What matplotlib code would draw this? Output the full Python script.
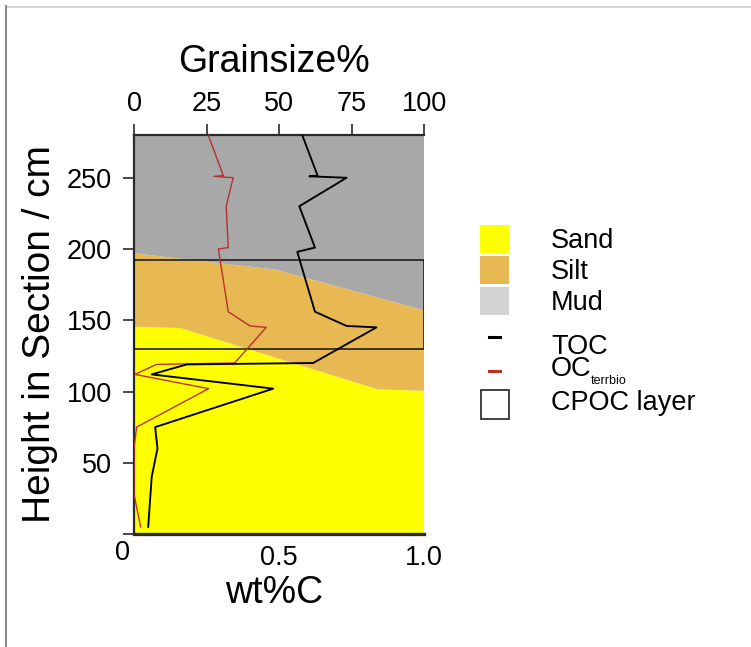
import matplotlib
matplotlib.use("Agg")
import matplotlib.pyplot as plt
from matplotlib.patches import Rectangle
from matplotlib.lines import Line2D

plt.rcParams['font.family'] = ['Liberation Sans', 'DejaVu Sans']

# Grain-size boundaries: cumulative percent vs. height in section (cm)
sand_top_pct = [0, 16, 84, 100]
sand_top_h = [145.5, 144.5, 101.5, 100.5]
silt_top_pct = [0, 49, 100]
silt_top_h = [197, 185.5, 157]

# Total organic carbon (wt% C) by height
toc_h = [280, 251.5, 251, 250, 230, 201, 198, 156, 146, 145, 120, 119, 112, 102, 75, 60, 40, 5]
toc_wt = [0.58, 0.633, 0.605, 0.733, 0.570, 0.624, 0.563, 0.624, 0.733, 0.836,
          0.618, 0.182, 0.061, 0.480, 0.073, 0.081, 0.061, 0.049]

# Terrestrial/biospheric organic carbon (wt% C) by height
oc_h = [280, 251.5, 251, 250, 230, 201, 200, 156, 146, 145, 120, 119, 112, 102, 75, 60, 40, 28, 5]
oc_wt = [0.256, 0.308, 0.276, 0.342, 0.318, 0.325, 0.291, 0.325, 0.400, 0.456,
         0.347, 0.078, 0.003, 0.257, 0.009, 0.0, 0.0, 0.0, 0.023]

# CPOC layer extent (cm)
cpoc_bottom, cpoc_top = 130, 192

pct_ticks = [0, 25, 50, 75, 100]
height_ticks = [0, 50, 100, 150, 200, 250]
height_labels = ['', '50', '100', '150', '200', '250']
h_max = 280

SAND = '#FFFF00'
SILT = '#E8B952'
MUD = '#A8A8A8'
MUD_KEY = '#D3D3D3'
RED = '#B8302A'
AX_COL = '#2a2a2a'
TICK_FS = 19.5

W, H = 751, 647
fig = plt.figure(figsize=(W / 100, H / 100), dpi=100)

ax = fig.add_axes([134 / W, 113 / H, 290 / W, 399 / H])
ax2 = ax.twiny()

ax.set_xlim(0, 100)
ax.set_ylim(0, h_max)

# stacked grain-size areas
sand_poly_x = [0, 100] + sand_top_pct[::-1]
sand_poly_y = [0, 0] + sand_top_h[::-1]
ax.fill(sand_poly_x, sand_poly_y, color=SAND, lw=0, zorder=1)

silt_poly_x = sand_top_pct + silt_top_pct[::-1]
silt_poly_y = sand_top_h + silt_top_h[::-1]
ax.fill(silt_poly_x, silt_poly_y, color=SILT, lw=0, zorder=1)

mud_poly_x = silt_top_pct + [100, 0]
mud_poly_y = silt_top_h + [h_max, h_max]
ax.fill(mud_poly_x, mud_poly_y, color=MUD, lw=0, zorder=1)

ax.add_patch(Rectangle((0, cpoc_bottom), 100, cpoc_top - cpoc_bottom,
                       fill=False, ec='#111111', lw=1.1, zorder=3))

# grain-size scale along the top
ax.xaxis.set_ticks_position('top')
ax.xaxis.set_label_position('top')
ax.set_xticks(pct_ticks)
ax.set_xticklabels([str(t) for t in pct_ticks])
ax.tick_params(axis='x', direction='out', length=8, width=1.2, color=AX_COL,
               labelsize=TICK_FS, pad=5)
ax.set_yticks(height_ticks)
ax.set_yticklabels(height_labels)
ax.tick_params(axis='y', direction='out', length=8, width=1.2, color=AX_COL,
               labelsize=TICK_FS, pad=8)
for s in ('right', 'bottom'):
    ax.spines[s].set_visible(False)
for s in ('left', 'top'):
    ax.spines[s].set_linewidth(1.6)
    ax.spines[s].set_color(AX_COL)

# carbon profiles on the wt%C scale along the bottom
ax2.set_xlim(0, 1)
ax2.set_ylim(0, h_max)
ax2.plot(oc_wt, oc_h, color=RED, lw=1.0, zorder=4)
ax2.plot(toc_wt, toc_h, color='black', lw=1.35, zorder=5)
ax2.xaxis.set_ticks_position('bottom')
ax2.xaxis.set_label_position('bottom')
ax2.set_xticks([0, 0.5, 1.0])
ax2.set_xticklabels(['', '0.5', '1.0'])
ax2.set_xticks([0], minor=True)
ax2.tick_params(axis='x', which='major', length=0, labelsize=TICK_FS, pad=8)
ax2.tick_params(axis='x', which='minor', direction='out', length=8, width=1.2,
                color=AX_COL)
for s in ('left', 'right', 'top'):
    ax2.spines[s].set_visible(False)
ax2.spines['bottom'].set_linewidth(2.4)
ax2.spines['bottom'].set_color(AX_COL)
ax2.annotate('0', xy=(0, 0), xycoords='data', xytext=(-12, -19),
             textcoords='offset pixels', ha='center', va='center', fontsize=TICK_FS)

# titles
fig.text(274 / W, 1 - 71.5 / H, 'Grainsize%', fontsize=27, ha='center', va='baseline')
fig.text(274 / W, 1 - 603 / H, 'wt%C', fontsize=27, ha='center', va='baseline')
fig.text(40 / W, 1 - 334 / H, 'Height in Section / cm', fontsize=28,
         rotation=90, ha='center', va='center')

# key, laid out in pixel space
lg = fig.add_axes([0, 0, 1, 1])
lg.set_xlim(0, W)
lg.set_ylim(H, 0)
lg.axis('off')
lg.add_patch(Rectangle((480, 225), 28.5, 28, color=SAND, lw=0))
lg.add_patch(Rectangle((480, 256), 28.5, 28, color=SILT, lw=0))
lg.add_patch(Rectangle((480, 287), 28.5, 28, color=MUD_KEY, lw=0))
lg.add_line(Line2D([488.5, 500], [337, 337], color='black', lw=2.2))
lg.add_line(Line2D([488.5, 500], [371, 371], color=RED, lw=2.2))
lg.add_patch(Rectangle((481, 390), 28, 28.5, fill=False, ec='#333333', lw=1.3))
key_fs = 19.5
lg.text(551, 248, 'Sand', fontsize=key_fs, va='baseline')
lg.text(551, 279, 'Silt', fontsize=key_fs, va='baseline')
lg.text(551, 310, 'Mud', fontsize=key_fs, va='baseline')
lg.text(551, 354.5, 'TOC', fontsize=key_fs, va='baseline')
lg.text(551, 376, 'OC', fontsize=key_fs, va='baseline')
lg.text(591, 384.5, 'terrbio', fontsize=9, va='baseline')
lg.text(551, 410, 'CPOC layer', fontsize=key_fs, va='baseline')

# frame edges
fig.add_artist(Line2D([6 / W, 1], [1 - 6.5 / H, 1 - 6.5 / H], color='#D0D0D0', lw=1.2,
                      transform=fig.transFigure))
fig.add_artist(Line2D([6.5 / W, 6.5 / W], [0, 1 - 6 / H], color='#8a8a8a', lw=1.5,
                      transform=fig.transFigure))

fig.savefig('out.png', dpi=100)
